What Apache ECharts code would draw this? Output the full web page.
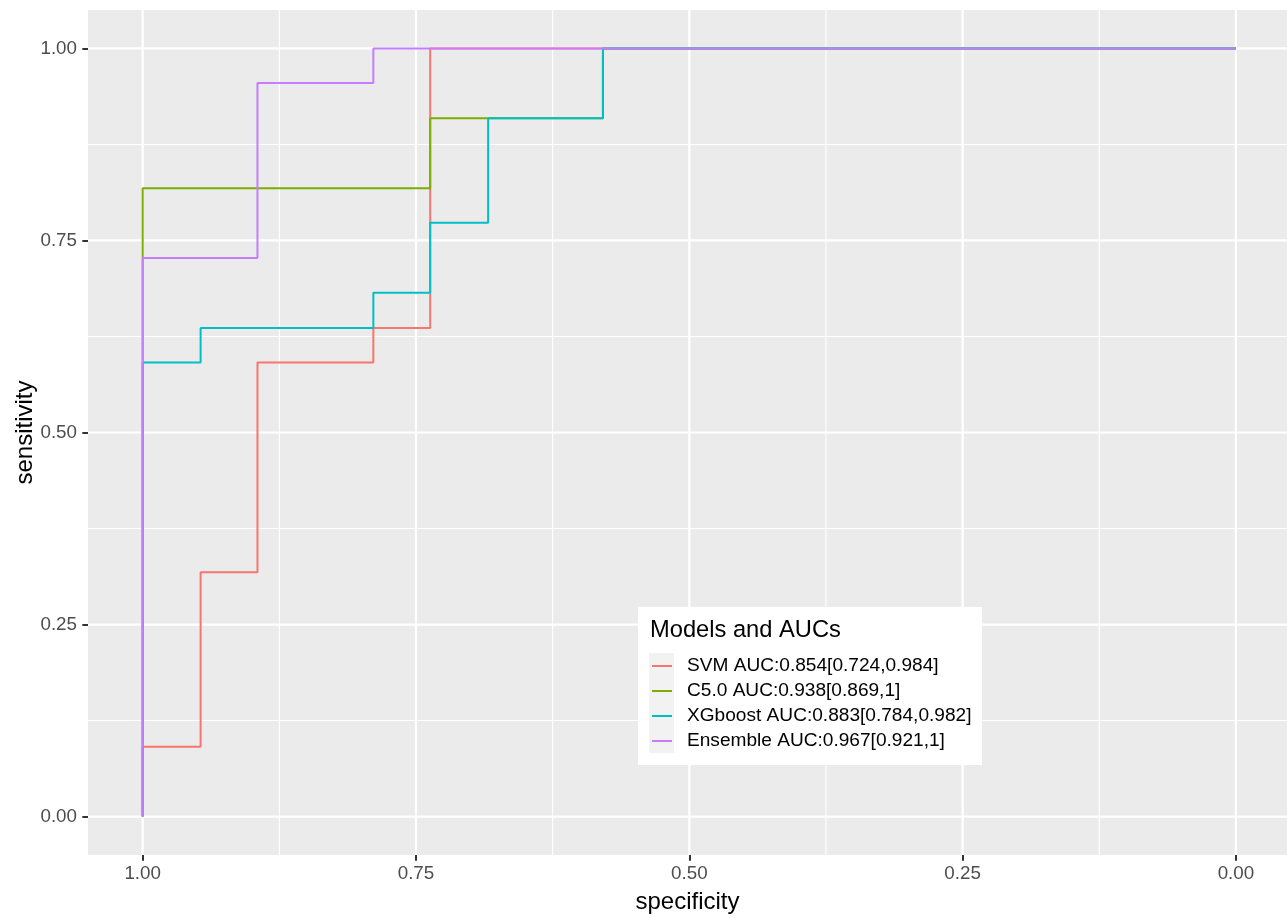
<!DOCTYPE html>
<html>
<head>
<meta charset="utf-8">
<script src="https://cdn.jsdelivr.net/npm/echarts@6/dist/echarts.min.js"></script>
<style>html,body{margin:0;padding:0;background:#fff;}#c{width:1287px;height:918px;}</style>
</head>
<body>
<div id="c"></div>
<script>
// ---- data ----
const seriesNames = [
  'SVM AUC:0.854[0.724,0.984]',
  'C5.0 AUC:0.938[0.869,1]',
  'XGboost AUC:0.883[0.784,0.982]',
  'Ensemble AUC:0.967[0.921,1]'
];
// ROC points: [specificity, sensitivity]
const svmRoc = [[1,0],[1,0.091],[0.947,0.091],[0.947,0.318],[0.895,0.318],[0.895,0.591],[0.789,0.591],[0.789,0.636],[0.737,0.636],[0.737,1],[0,1]];
const c50Roc = [[1,0],[1,0.818],[0.737,0.818],[0.737,0.909],[0.579,0.909],[0.579,1],[0,1]];
const xgbRoc = [[1,0],[1,0.591],[0.947,0.591],[0.947,0.636],[0.789,0.636],[0.789,0.682],[0.737,0.682],[0.737,0.773],[0.684,0.773],[0.684,0.909],[0.579,0.909],[0.579,1],[0,1]];
const ensRoc = [[1,0],[1,0.727],[0.895,0.727],[0.895,0.955],[0.789,0.955],[0.789,1],[0,1]];
const xTicks = [1, 0.75, 0.5, 0.25, 0];
const yTicks = [0, 0.25, 0.5, 0.75, 1];
const minorTicks = [0.125, 0.375, 0.625, 0.875];
const xLimits = [-0.0467, 1.05];
const yLimits = [-0.05, 1.05];

const colors = ['#F8766D', '#7CAE00', '#00BFC4', '#C77CFF'];
const FONT = '"Liberation Sans", Arial, Helvetica, sans-serif';

const chart = echarts.init(document.getElementById('c'), null, {renderer: 'canvas'});

const gridSeries = [];
function gridLine(data, width) {
  gridSeries.push({
    type: 'line', data: data, symbol: 'none', silent: true, z: 1,
    lineStyle: {color: '#FFFFFF', width: width}, animation: false, clip: false,
    tooltip: {show: false}, legendHoverLink: false
  });
}
xTicks.forEach(v => gridLine([[v, yLimits[0]], [v, yLimits[1]]], 2.2));
yTicks.forEach(v => gridLine([[xLimits[0], v], [xLimits[1], v]], 2.2));
minorTicks.forEach(v => gridLine([[v, yLimits[0]], [v, yLimits[1]]], 1.1));
minorTicks.forEach(v => gridLine([[xLimits[0], v], [xLimits[1], v]], 1.1));

const rocData = [svmRoc, c50Roc, xgbRoc, ensRoc];
const dataSeries = rocData.map((d, i) => ({
  name: seriesNames[i], type: 'line', data: d, symbol: 'none', z: 3,
  color: colors[i],
  lineStyle: {color: colors[i], width: 2},
  itemStyle: {color: colors[i]},
  animation: false
}));

const option = {
  backgroundColor: '#FFFFFF',
  animation: false,
  grid: {left: 88, right: 0, top: 10, bottom: 63, containLabel: false, outerBoundsMode: 'none',
         show: true, backgroundColor: '#EBEBEB', borderWidth: 0},
  xAxis: {
    type: 'value', inverse: true, min: xLimits[0], max: xLimits[1],
    name: 'specificity', nameLocation: 'middle', nameGap: 35, nameMoveOverlap: false,
    nameTextStyle: {fontSize: 24, color: '#000000', fontFamily: FONT},
    axisLine: {show: false, onZero: false},
    axisTick: {show: true, length: 5.7, customValues: xTicks, lineStyle: {color: '#333333', width: 2}},
    axisLabel: {show: true, margin: 9, customValues: xTicks, fontSize: 18.8, color: '#4D4D4D', fontFamily: FONT,
                formatter: v => v.toFixed(2)},
    splitLine: {show: false}, minorSplitLine: {show: false}
  },
  yAxis: {
    type: 'value', min: yLimits[0], max: yLimits[1],
    name: 'sensitivity', nameLocation: 'middle', nameGap: 51, nameRotate: 90, nameMoveOverlap: false,
    nameTextStyle: {fontSize: 24, color: '#000000', fontFamily: FONT},
    axisLine: {show: false, onZero: false},
    axisTick: {show: true, length: 5.7, customValues: yTicks, lineStyle: {color: '#333333', width: 2}},
    axisLabel: {show: true, margin: 11, customValues: yTicks, fontSize: 18.8, color: '#4D4D4D', fontFamily: FONT,
                formatter: v => v.toFixed(2)},
    splitLine: {show: false}, minorSplitLine: {show: false}
  },
  legend: {
    data: seriesNames, orient: 'vertical', left: 652, top: 653.5, padding: 0, itemGap: 0,
    icon: 'rect', itemWidth: 20, itemHeight: 2, z: 10, selectedMode: false,
    textStyle: {fontSize: 19.1, color: '#000000', fontFamily: FONT, lineHeight: 25, padding: [0, 0, 0, 10]}
  },
  graphic: [
    {type: 'rect', z: 5, silent: true, shape: {x: 638, y: 607, width: 344, height: 158}, style: {fill: '#FFFFFF'}},
    {type: 'rect', z: 6, silent: true, shape: {x: 649, y: 653, width: 25, height: 100}, style: {fill: '#F2F2F2'}},
    {type: 'text', z: 10, silent: true, x: 650, y: 630,
     style: {text: 'Models and AUCs', fontSize: 23.7, fontFamily: FONT, fill: '#000000', verticalAlign: 'middle', align: 'left'}}
  ],
  series: gridSeries.concat(dataSeries)
};
chart.setOption(option);
</script>
</body>
</html>
